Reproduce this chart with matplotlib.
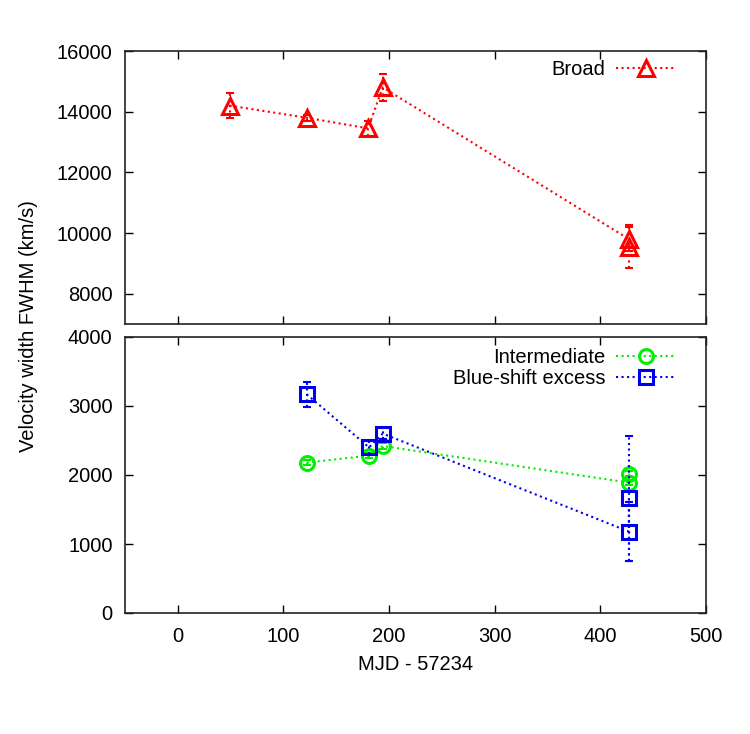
import matplotlib
matplotlib.use("Agg")
import matplotlib.pyplot as plt
import numpy as np

plt.rcParams['font.family'] = ['Liberation Sans', 'DejaVu Sans']

# Broad component
broad_x = [49, 122, 180, 194, 427, 427]
broad_y = [14200, 13800, 13450, 14800, 9800, 9550]
broad_err = [400, 100, 250, 450, 400, 700]

# Intermediate component
inter_x = [122, 181, 194, 427, 427]
inter_y = [2180, 2280, 2420, 1890, 2020]
inter_err = [40, 40, 40, 40, 40]

# Blue-shift excess
blue_x = [122, 181, 194, 427, 427]
blue_y = [3170, 2400, 2600, 1180, 1660]
blue_err = [180, 100, 80, 430, 900]

xticks = [0, 100, 200, 300, 400, 500]
top_yticks = [8000, 10000, 12000, 14000, 16000]
bot_yticks = [0, 1000, 2000, 3000, 4000]

FS = 14.5

fig = plt.figure(figsize=(7.5, 7.34), dpi=100)
W, H = 750, 734
left, right = 125 / W, 706 / W
ax1 = fig.add_axes([left, 1 - 324 / H, right - left, (324 - 51) / H])
ax2 = fig.add_axes([left, 1 - 613 / H, right - left, (613 - 337) / H])

def style(ax):
    ax.tick_params(direction='in', top=True, right=True, labelsize=FS, length=6, width=1)
    ax.tick_params(axis='y', pad=9)
    ax.tick_params(axis='x', pad=10)
    for s in ax.spines.values():
        s.set_linewidth(1.2)
        s.set_color('#222222')

def series(ax, x, y, err, color, marker, label, ms):
    e = ax.errorbar(x, y, yerr=err, fmt='none', ecolor=color, elinewidth=1.5,
                    capsize=3, capthick=1.5)
    for c in e[2]:
        c.set_linestyle(':')
    ax.plot(x, y, color=color, linestyle=':', linewidth=1.5,
            marker=marker, markersize=ms, markerfacecolor='none',
            markeredgewidth=2.2, label=label)

series(ax1, broad_x, broad_y, broad_err, '#ff0000', '^', 'Broad', 12)
series(ax2, inter_x, inter_y, inter_err, '#00ee00', 'o', 'Intermediate', 10)
series(ax2, blue_x, blue_y, blue_err, '#0000ee', 's', 'Blue-shift excess', 10)

for ax in (ax1, ax2):
    style(ax)
    ax.set_xlim(-50, 500)
    ax.set_xticks(xticks)

ax1.set_ylim(7000, 16000)
ax1.set_yticks(top_yticks)
ax1.tick_params(labelbottom=False)
ax2.set_ylim(0, 4000)
ax2.set_yticks(bot_yticks)

leg_kw = dict(frameon=False, markerfirst=False, handlelength=3.0, fontsize=FS,
              borderaxespad=0, borderpad=0, handletextpad=0.5, labelspacing=0.1,
              loc='upper right')
ax1.legend(bbox_to_anchor=((676 - 125) / 581, (324 - 60) / 273), **leg_kw)
ax2.legend(bbox_to_anchor=((676 - 125) / 581, (613 - 348) / 276), **leg_kw)

ax2.set_xlabel('MJD - 57234', fontsize=FS, labelpad=6.5)
fig.text(28 / W, 1 - 326 / H, 'Velocity width FWHM (km/s)', rotation=90,
         ha='center', va='center', fontsize=FS)

fig.savefig('out.png', dpi=100)
